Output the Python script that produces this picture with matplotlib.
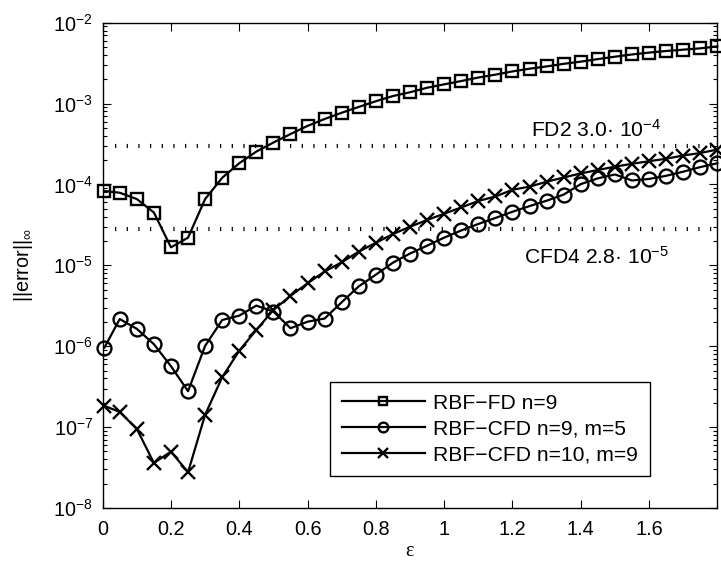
import matplotlib
matplotlib.use("Agg")
import matplotlib.pyplot as plt
from matplotlib.ticker import NullFormatter, FixedLocator

plt.rcParams['font.family'] = ['Liberation Sans', 'DejaVu Sans']
plt.rcParams['mathtext.fontset'] = 'custom'
plt.rcParams['mathtext.rm'] = 'Liberation Sans'
plt.rcParams['mathtext.it'] = 'Liberation Sans:italic'
plt.rcParams['mathtext.bf'] = 'Liberation Sans:bold'

epsilon = [0.005, 0.05, 0.10, 0.15, 0.20, 0.25, 0.30, 0.35, 0.40, 0.45,
           0.50, 0.55, 0.60, 0.65, 0.70, 0.75, 0.80, 0.85, 0.90, 0.95,
           1.00, 1.05, 1.10, 1.15, 1.20, 1.25, 1.30, 1.35, 1.40, 1.45,
           1.50, 1.55, 1.60, 1.65, 1.70, 1.75, 1.80]

rbf_fd = [8.3e-5, 7.9e-5, 6.6e-5, 4.5e-5, 1.67e-5, 2.2e-5, 6.6e-5, 1.21e-4, 1.83e-4, 2.55e-4,
          3.3e-4, 4.2e-4, 5.3e-4, 6.45e-4, 7.7e-4, 9.1e-4, 1.07e-3, 1.24e-3, 1.38e-3, 1.57e-3,
          1.73e-3, 1.9e-3, 2.1e-3, 2.28e-3, 2.5e-3, 2.7e-3, 2.88e-3, 3.1e-3, 3.3e-3, 3.55e-3,
          3.8e-3, 4.05e-3, 4.27e-3, 4.47e-3, 4.64e-3, 4.82e-3, 5.1e-3]

rbf_cfd_9_5 = [9.6e-7, 2.17e-6, 1.64e-6, 1.06e-6, 5.66e-7, 2.78e-7, 1.01e-6, 2.11e-6, 2.39e-6, 3.18e-6,
               2.68e-6, 1.67e-6, 2.01e-6, 2.2e-6, 3.5e-6, 5.5e-6, 7.67e-6, 1.08e-5, 1.4e-5, 1.75e-5,
               2.2e-5, 2.7e-5, 3.25e-5, 3.85e-5, 4.6e-5, 5.4e-5, 6.3e-5, 7.5e-5, 1.01e-4, 1.19e-4,
               1.33e-4, 1.12e-4, 1.17e-4, 1.28e-4, 1.44e-4, 1.64e-4, 1.83e-4]

rbf_cfd_10_9 = [1.83e-7, 1.54e-7, 9.5e-8, 3.6e-8, 4.98e-8, 2.77e-8, 1.42e-7, 4.14e-7, 8.8e-7, 1.59e-6,
                2.81e-6, 4.2e-6, 6.0e-6, 8.4e-6, 1.09e-5, 1.48e-5, 1.9e-5, 2.44e-5, 3.0e-5, 3.64e-5,
                4.35e-5, 5.2e-5, 6.25e-5, 7.1e-5, 8.6e-5, 9.4e-5, 1.08e-4, 1.22e-4, 1.37e-4, 1.51e-4,
                1.66e-4, 1.8e-4, 1.94e-4, 2.08e-4, 2.28e-4, 2.45e-4, 2.7e-4]

ref_levels = [3.0e-4, 2.8e-5]
ref_labels = ['FD2 3.0· 10$^{-4}$', 'CFD4 2.8· 10$^{-5}$']
legend_labels = ['RBF−FD n=9', 'RBF−CFD n=9, m=5', 'RBF−CFD n=10, m=9']
xticks = [0, 0.2, 0.4, 0.6, 0.8, 1.0, 1.2, 1.4, 1.6]
xticklabels = ['0', '0.2', '0.4', '0.6', '0.8', '1', '1.2', '1.4', '1.6']
yticks = [1e-8, 1e-7, 1e-6, 1e-5, 1e-4, 1e-3, 1e-2]
yticklabels = ['10$^{-8}$', '10$^{-7}$', '10$^{-6}$', '10$^{-5}$', '10$^{-4}$', '10$^{-3}$', '10$^{-2}$']

fig = plt.figure(figsize=(7.21, 5.62), dpi=100)
ax = fig.add_axes([0.1424, 0.0961, 0.8516, 0.8635])

fs = 14.3
fs_big = 15.2
lw = 1.6
common = dict(color='black', lw=lw, markerfacecolor='none', markeredgecolor='black',
              markeredgewidth=1.7, clip_on=False, zorder=3)
ax.plot(epsilon, rbf_fd, marker='s', ms=9, label=legend_labels[0], **common)
ax.plot(epsilon, rbf_cfd_9_5, marker='o', ms=10, label=legend_labels[1], **common)
ax.plot(epsilon, rbf_cfd_10_9, marker='x', ms=9.5, label=legend_labels[2], **common)

for lev in ref_levels:
    ax.axhline(lev, xmin=0.02, color='black', lw=3.0, linestyle=(0, (0.3, 2.5)),
               dash_capstyle='butt', zorder=2)

ax.text(1.255, 3.9e-4, ref_labels[0], fontsize=fs_big, va='baseline', ha='left')
ax.text(1.235, 1.06e-5, ref_labels[1], fontsize=fs_big, va='baseline', ha='left')

ax.set_yscale('log')
ax.set_xlim(0, 1.798)
ax.set_ylim(1e-8, 1e-2)
ax.xaxis.set_major_locator(FixedLocator(xticks))
ax.set_xticklabels(xticklabels)
ax.yaxis.set_major_locator(FixedLocator(yticks))
ax.set_yticklabels(yticklabels)
minor_y = [m * d for d in yticks[:-1] for m in range(2, 10)]
ax.yaxis.set_minor_locator(FixedLocator(minor_y))
ax.yaxis.set_minor_formatter(NullFormatter())

ax.tick_params(axis='both', which='both', direction='in', top=True, right=True,
               labelsize=fs, width=0.8)
ax.tick_params(axis='both', which='major', length=6)
ax.tick_params(axis='y', which='minor', length=3)
ax.tick_params(axis='x', which='major', pad=9)
ax.tick_params(axis='y', which='major', pad=7)
for sp in ax.spines.values():
    sp.set_linewidth(1.0)

ax.set_ylabel('||error||$_{\\infty}$', fontsize=fs, labelpad=13)
ax.set_xlabel('ε', fontsize=fs, family=['Liberation Serif', 'DejaVu Serif'], labelpad=2)

leg = ax.legend(loc='lower right', bbox_to_anchor=(0.891, 0.066), fontsize=fs_big,
                frameon=True, fancybox=False, edgecolor='black', framealpha=1,
                handlelength=3.95, handletextpad=0.4, labelspacing=0.33,
                borderpad=0.54, markerscale=0.7, borderaxespad=0)
leg.get_frame().set_linewidth(1.0)

fig.savefig('out.png', dpi=100)
